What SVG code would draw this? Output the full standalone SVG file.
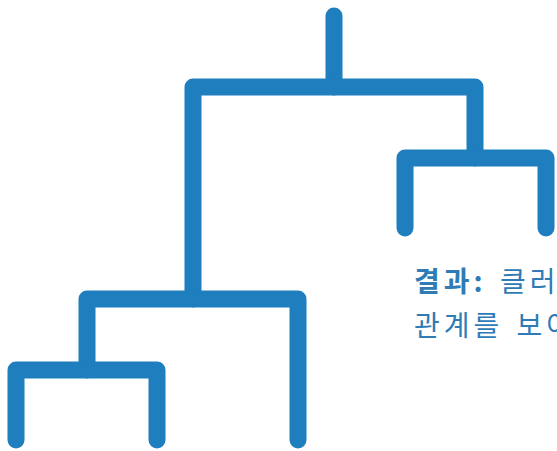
<svg xmlns="http://www.w3.org/2000/svg" width="557" height="451" viewBox="0 0 557 451">
<style>
.link{fill:none;stroke:#1f7ebd;stroke-width:17;stroke-linecap:round;stroke-linejoin:round}
.lbl{font-family:"Noto Sans CJK KR","Noto Sans",sans-serif;font-size:28px;fill:#2f7bb5;letter-spacing:4px;word-spacing:3px}
.b{font-weight:bold}
</style>
<rect width="557" height="451" fill="#ffffff"/>
<g id="connectors">
<path class="link" d="M334,16 V87"/>
</g>
<g id="node-root"><path class="link" d="M193,299 V87 H475 V158"/></g>
<g id="node-right"><path class="link" d="M405,228 V158 H546 V228"/></g>
<g id="node-left"><path class="link" d="M87,370 V299 H298 V440"/></g>
<g id="node-bottom"><path class="link" d="M16,440 V370 H157 V440"/></g>
<g id="label">
<text class="lbl" x="414" y="292"><tspan class="b">결과:</tspan> 클러스</text>
<text class="lbl" x="414" y="336">관계를 보여</text>
</g>
</svg>
